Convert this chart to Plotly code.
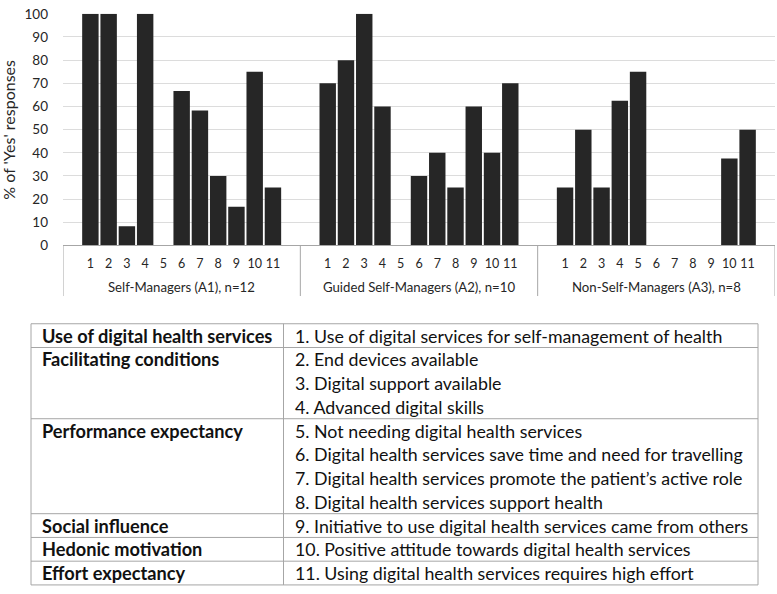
import plotly.graph_objects as go

W, H = 777, 594

# ---------------- data ----------------
items = ["1", "2", "3", "4", "5", "6", "7", "8", "9", "10", "11"]
groups = ["Self-Managers (A1), n=12", "Guided Self-Managers (A2), n=10", "Non-Self-Managers (A3), n=8"]
a1_values = [100, 100, 8.3, 100, 0, 66.7, 58.3, 30, 16.7, 75, 25]
a2_values = [70, 80, 100, 60, 0, 30, 40, 25, 60, 40, 70]
a3_values = [25, 50, 25, 62.5, 75, 0, 0, 0, 0, 37.5, 50]
y_ticks = [0, 10, 20, 30, 40, 50, 60, 70, 80, 90, 100]
y_title = "% of 'Yes' responses"

constructs = ["Use of digital health services", "Facilitating conditions", "Performance expectancy",
              "Social influence", "Hedonic motivation", "Effort expectancy"]
construct_sizes = [1, 3, 4, 1, 1, 1]
item_texts = [
    "1. Use of digital services for self-management of health",
    "2. End devices available",
    "3. Digital support available",
    "4. Advanced digital skills",
    "5. Not needing digital health services",
    "6. Digital health services save time and need for travelling",
    "7. Digital health services promote the patient’s active role",
    "8. Digital health services support health",
    "9. Initiative to use digital health services came from others",
    "10. Positive attitude towards digital health services",
    "11. Using digital health services requires high effort",
]

series = [a1_values, a2_values, a3_values]

# ---------------- helpers ----------------
def px(x):
    return x / W

def py(y):
    return 1 - y / H

slots = len(items) + 2  # blank slot at each side of a group
FONT = "Lato, Carlito, 'Open Sans', sans-serif"
BAR = "#262626"
TXT = "#262626"
LINE = "#a6a6a6"

fig = go.Figure()
tickvals, ticktext = [], []
for g, vals in enumerate(series):
    xs = [g * slots + 1 + i for i in range(len(items))]
    tickvals += xs
    ticktext += items
    fig.add_trace(go.Bar(x=xs, y=vals, marker=dict(color=BAR, line=dict(width=0)),
                         name=groups[g], showlegend=False))

annotations = []
shapes = []

# group labels and dividers
for g, name in enumerate(groups):
    annotations.append(dict(x=g * slots + (slots - 1) / 2, xref="x", y=py(287), yref="paper",
                            text=name, showarrow=False, font=dict(size=13.2, color=TXT),
                            xanchor="center", yanchor="middle"))
for g in range(len(groups) + 1):
    shapes.append(dict(type="line", xref="x", yref="paper", x0=g * slots - 0.5, x1=g * slots - 0.5,
                       y0=py(244), y1=py(296), line=dict(color=LINE, width=1)))

# y title
annotations.append(dict(x=px(9), xref="paper", y=py(125), yref="paper", text=y_title,
                        textangle=-90, showarrow=False, font=dict(size=16, color=TXT),
                        xanchor="center", yanchor="middle"))

# ---------------- table ----------------
t_left, t_mid, t_right = 31, 283.5, 758
t_top, pitch = 324.5, 24.4
n_rows = sum(construct_sizes)
t_bottom = t_top + n_rows * pitch

shapes.append(dict(type="rect", xref="paper", yref="paper", x0=px(t_left), x1=px(t_right),
                   y0=py(t_top), y1=py(t_bottom), line=dict(color=LINE, width=1)))
shapes.append(dict(type="line", xref="paper", yref="paper", x0=px(t_mid), x1=px(t_mid),
                   y0=py(t_top), y1=py(t_bottom), line=dict(color=LINE, width=1)))
row = 0
for c, (name, size) in enumerate(zip(constructs, construct_sizes)):
    y_row = t_top + row * pitch
    if c > 0:
        shapes.append(dict(type="line", xref="paper", yref="paper", x0=px(t_left), x1=px(t_right),
                           y0=py(y_row), y1=py(y_row), line=dict(color=LINE, width=1)))
    annotations.append(dict(x=px(t_left + 9), xref="paper", y=py(y_row + pitch / 2), yref="paper",
                            text="<b>" + name + "</b>", showarrow=False,
                            font=dict(size=18.2, color="#111111"), xanchor="left", yanchor="middle"))
    row += size
for r, txt in enumerate(item_texts):
    annotations.append(dict(x=px(t_mid + 9), xref="paper", y=py(t_top + (r + 0.5) * pitch), yref="paper",
                            text=txt, showarrow=False, font=dict(size=17.8, color="#111111"),
                            xanchor="left", yanchor="middle"))

fig.update_layout(
    width=W, height=H,
    margin=dict(l=0, r=0, t=0, b=0),
    paper_bgcolor="white", plot_bgcolor="white",
    font=dict(family=FONT, color=TXT),
    bargap=0.1, barmode="overlay",
    showlegend=False,
    xaxis=dict(domain=[px(63), px(775)], range=[-0.5, len(groups) * slots - 0.5],
               tickvals=tickvals, ticktext=ticktext, tickangle=0,
               showgrid=False, zeroline=False, showline=True, linecolor=LINE, linewidth=1,
               ticks="", ticklabelstandoff=7, tickfont=dict(size=12.5, color=TXT), fixedrange=True),
    yaxis=dict(domain=[py(244), py(6)], range=[0, 100], tickvals=y_ticks,
               showgrid=True, gridcolor="#dcdcdc", gridwidth=1, zeroline=False, showline=False,
               ticks="", ticklabelstandoff=14, ticklabeloverflow="allow",
               tickfont=dict(size=13.5, color=TXT), fixedrange=True),
    annotations=annotations,
    shapes=shapes,
)

fig.write_html("out.html", config={"displayModeBar": False},
               post_script="document.body.style.margin='0';document.body.style.overflow='hidden';")
